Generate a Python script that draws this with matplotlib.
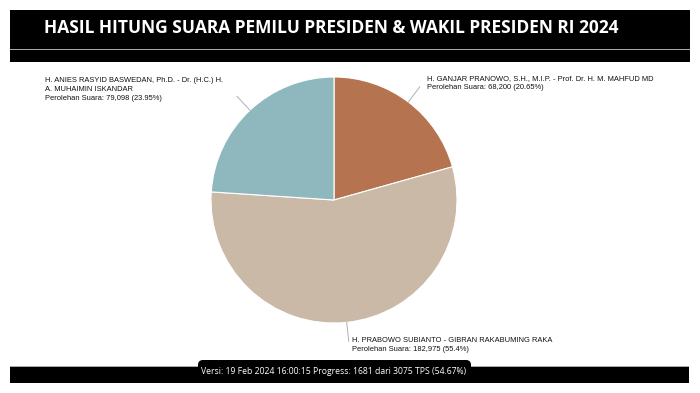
import numpy as np
import matplotlib.pyplot as plt
from matplotlib.patches import Rectangle, FancyBboxPatch

# data
kandidat = [
    "H. GANJAR PRANOWO, S.H., M.I.P. - Prof. Dr. H. M. MAHFUD MD",
    "H. PRABOWO SUBIANTO - GIBRAN RAKABUMING RAKA",
    "H. ANIES RASYID BASWEDAN, Ph.D. - Dr. (H.C.) H.\nA. MUHAIMIN ISKANDAR",
]
suara = [68200, 182975, 79098]
persen_label = ["20.65%", "55.4%", "23.95%"]
warna = ["#b5744f", "#c9b9a6", "#8eb8bd"]

judul = "HASIL HITUNG SUARA PEMILU PRESIDEN & WAKIL PRESIDEN RI 2024"
versi = "Versi: 19 Feb 2024 16:00:15 Progress: 1681 dari 3075 TPS (54.67%)"

W, H = 700, 393
fig = plt.figure(figsize=(W / 100, H / 100), dpi=100)
ax = fig.add_axes([0, 0, 1, 1])

# header
ax.add_patch(Rectangle((10, 10), 680, 52, facecolor="black", edgecolor="none"))
ax.add_patch(Rectangle((10, 48.5), 680, 1.5, facecolor="#a8a8a8", edgecolor="none"))
ax.text(44, 28, judul, color="white", fontsize=12.5, fontweight="bold",
        family="Open Sans", va="center", ha="left")

# pie (pixel coords, y inverted -> start at -90 & counterclock for clockwise look)
cx, cy, r = 334, 200, 123
wedges, _ = ax.pie(suara, colors=warna, center=(cx, cy), radius=r,
                   startangle=-90, counterclock=True,
                   wedgeprops=dict(edgecolor="white", linewidth=0.8))

# label positions (left x, top y of text block)
posisi_teks = [(427, 75), (352, 337), (45, 77)]
for w, nama, n, p, (tx, ty) in zip(wedges, kandidat, suara, persen_label, posisi_teks):
    mid = np.deg2rad((w.theta1 + w.theta2) / 2)
    x0, y0 = cx + r * np.cos(mid), cy + r * np.sin(mid)
    x1, y1 = cx + (r + 19) * np.cos(mid), cy + (r + 19) * np.sin(mid)
    ax.plot([x0, x1], [y0, y1], color="#b0b0b0", lw=0.7, zorder=1)
    teks = f"{nama}\nPerolehan Suara: {n:,} ({p})"
    ax.text(tx, ty, teks, fontsize=5.4, family="Liberation Sans", color="#111111",
            va="top", ha="left", linespacing=1.45)

# footer
ax.add_patch(Rectangle((10, 366), 679, 17, facecolor="black", edgecolor="none"))
ax.add_patch(Rectangle((10, 365.5), 679, 1.2, facecolor="#a8a8a8", edgecolor="none"))
ax.add_patch(FancyBboxPatch((198, 360), 273, 23, boxstyle="round,pad=0,rounding_size=5",
                            facecolor="black", edgecolor="none", zorder=3))
ax.text(334, 372, versi, color="white", fontsize=6.25, family="Open Sans",
        va="center", ha="center", zorder=4)

ax.set_xlim(0, W)
ax.set_ylim(H, 0)
ax.set_aspect("auto")
ax.axis("off")

fig.savefig("out.png", dpi=100, facecolor="white")
